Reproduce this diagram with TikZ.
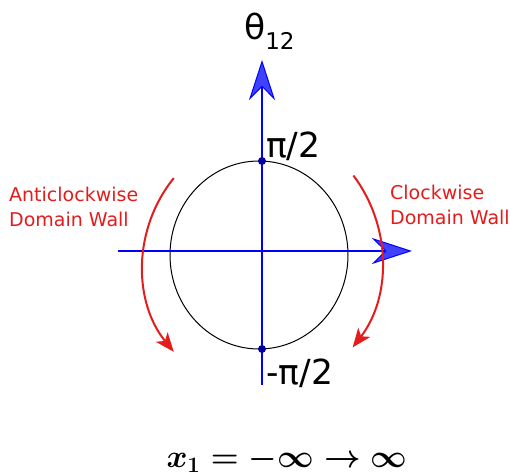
\documentclass[tikz,border=0pt]{standalone}
\usepackage[no-math]{fontspec}
\setmainfont{DejaVu Sans}
\usetikzlibrary{arrows.meta,positioning}
\definecolor{wallred}{RGB}{228,28,28}
\definecolor{axisblue}{RGB}{0,0,255}
\definecolor{dotblue}{RGB}{0,0,160}

\begin{document}
\begin{tikzpicture}[x=1pt,y=1pt,
  axis/.style={axisblue,line width=2.8pt,
    -{Stealth[length=40pt,width=26pt,inset=13pt,line width=1pt,fill=axisblue!75!white]}},
  ring/.style={draw=black,line width=1pt},
  wall/.style={wallred,line width=2pt,-{Stealth[length=19pt,width=15pt,inset=5pt]}},
  dot/.style={circle,fill=dotblue,inner sep=0pt,minimum size=8pt},
  tick/.style={inner sep=0pt,font=\fontsize{34.5}{40}\selectfont},
  walltext/.style={inner sep=0pt,text=wallred,align=left,font=\fontsize{19}{25}\selectfont},
  formula/.style={inner sep=0pt,font=\fontsize{24}{28}\selectfont\boldmath}]
  \useasboundingbox (0,0) rectangle (511,476);
  \coordinate (c) at (259,221);
  \coordinate (lc) at (281,211);
  \coordinate (rc) at (240,215);
  \coordinate (hl) at (118,225);
  \coordinate (hr) at (412,225);
  \coordinate (vb) at (262,91);
  \coordinate (vt) at (262,416);
  \draw[ring] (c) ellipse [x radius=89,y radius=94];
  \draw[axis] (hl) -- (hr);
  \draw[axis] (vb) -- (vt);
  \node[dot] (top) at (262,315) {};
  \node[dot] (bot) at (262,127) {};
  \node[tick,anchor=base west] (half) at (266,318) {π/2};
  \node[tick,anchor=base west] (mhalf) at (266,91) {-π/2};
  \node[tick,anchor=base west] (theta) at (244,436) {θ\raisebox{-0.28em}{\fontsize{23}{23}\selectfont 12}};
  \draw[wall] (lc) ++(141:138) arc[start angle=141,end angle=219,radius=138];
  \draw[wall] (rc) ++(37:142) arc[start angle=37,end angle=-37.5,radius=142];
  \node[walltext,anchor=west] (anti) at (9,269.5) {Anticlockwise\\Domain Wall};
  \node[walltext,anchor=west] (clock) at (390,271.5) {Clockwise\\Domain Wall};
  \node[formula,anchor=base] (range) at (287,8) {\scalebox{1.28}{$x_1 = -\infty \to \infty$}};
\end{tikzpicture}
\end{document}
